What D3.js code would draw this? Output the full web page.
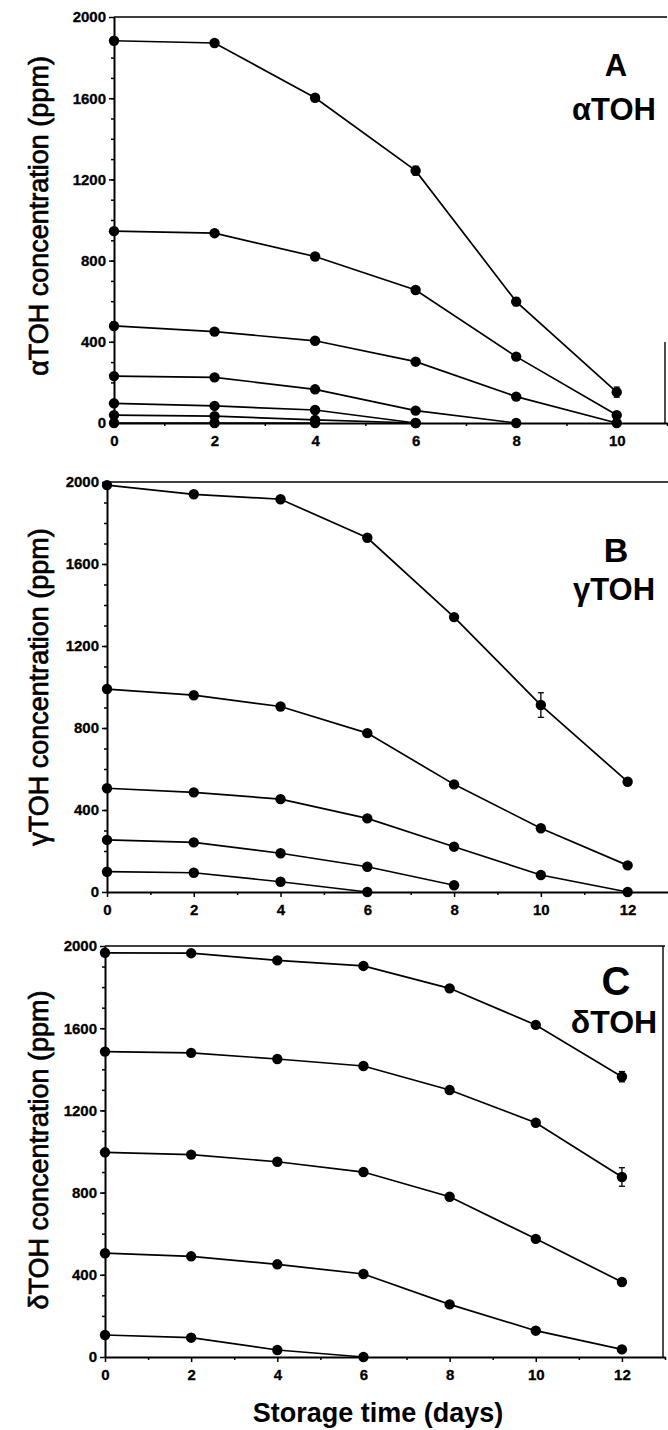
<!DOCTYPE html>
<html>
<head>
<meta charset="utf-8">
<script src="https://cdn.jsdelivr.net/npm/d3@7"></script>
<style>
  body { margin: 0; background: #fff; }
  svg { display: block; }
</style>
</head>
<body>
<div id="chart"></div>
<script>
// storage days
var daysA = [0, 2, 4, 6, 8, 10];
var daysBC = [0, 2, 4, 6, 8, 10, 12];

// alpha-tocopherol (ppm), one row per starting level
var alphaSeries = [
  [1883, 1872, 1602, 1243, 598, 152],
  [945, 935, 820, 655, 327, 39],
  [478, 450, 405, 302, 130, 0],
  [231, 225, 166, 61, 0, null],
  [97, 84, 64, 0, null, null],
  [39, 34, 15, 0, null, null],
  [0, 0, 0, null, null, null]
];
// gamma-tocopherol (ppm)
var gammaSeries = [
  [1985, 1940, 1916, 1728, 1341, 912, 538],
  [990, 960, 905, 775, 525, 311, 130],
  [506, 486, 453, 359, 221, 83, 0],
  [254, 242, 189, 123, 33, null, null],
  [99, 94, 50, 0, null, null, null]
];
// delta-tocopherol (ppm)
var deltaSeries = [
  [1967, 1965, 1930, 1903, 1794, 1616, 1364],
  [1486, 1480, 1450, 1416, 1299, 1140, 876],
  [996, 985, 950, 900, 780, 575, 365],
  [505, 490, 451, 404, 256, 128, 37],
  [107, 94, 34, 0, null, null, null]
];
// error bars: [series index, day, half-width]
var alphaErr = [[0, 6, 22], [0, 8, 20], [0, 10, 25]];
var gammaErr = [[0, 10, 60]];
var deltaErr = [[0, 12, 25], [1, 12, 45]];

var yTicks = [0, 400, 800, 1200, 1600, 2000];

var font = "Liberation Sans, Arial, sans-serif";

var svg = d3.select("#chart").append("svg")
  .attr("width", 668)
  .attr("height", 1430);

var panels = [
  { days: daysA, series: alphaSeries, err: alphaErr, xMax: 11, xr: [114, 667], yr: [423, 17],
    letter: "A", name: "\u03b1TOH", letterY: 76, nameY: 120, letterSize: 31, nameSize: 31,
    title: "\u03b1TOH concentration (ppm)", titleY: 216, rightFrom: 342 },
  { days: daysBC, series: gammaSeries, err: gammaErr, xMax: 13, xr: [107, 671], yr: [892, 482],
    letter: "B", name: "\u03b3TOH", letterY: 562, nameY: 600, letterSize: 34, nameSize: 31,
    title: "\u03b3TOH concentration (ppm)", titleY: 687, rightFrom: null },
  { days: daysBC, series: deltaSeries, err: deltaErr, xMax: 13, xr: [105, 665], yr: [1357, 946],
    letter: "C", name: "\u03b4TOH", letterY: 995, nameY: 1033, letterSize: 40, nameSize: 32,
    title: "\u03b4TOH concentration (ppm)", titleY: 1150, rightFrom: 946 }
];

panels.forEach(function(p) {
  var x = d3.scaleLinear().domain([0, p.xMax]).range(p.xr);
  var y = d3.scaleLinear().domain([0, 2000]).range(p.yr);
  var g = svg.append("g");

  // frame top + partial right side
  g.append("line")
    .attr("x1", x(0)).attr("x2", x(p.xMax))
    .attr("y1", y(2000)).attr("y2", y(2000))
    .attr("stroke", "#000").attr("stroke-width", 1.6);
  if (p.rightFrom !== null) {
    g.append("line")
      .attr("x1", x(p.xMax) - 2).attr("x2", x(p.xMax) - 2)
      .attr("y1", p.rightFrom).attr("y2", y(0))
      .attr("stroke", "#000").attr("stroke-width", 1.4);
  }

  // minor ticks
  var xMinor = d3.axisBottom(x).tickValues(d3.range(1, p.xMax + 1, 2)).tickSize(3).tickFormat("");
  var yMinor = d3.axisLeft(y).tickValues(d3.range(100, 2000, 100)).tickSize(3).tickFormat("");
  g.append("g").attr("transform", "translate(0," + y(0) + ")").call(xMinor)
    .call(a => a.select(".domain").remove());
  g.append("g").attr("transform", "translate(" + x(0) + ",0)").call(yMinor)
    .call(a => a.select(".domain").remove());

  var xAxis = d3.axisBottom(x).tickValues(p.days).tickSize(5).tickSizeOuter(0)
    .tickPadding(7).tickFormat(d3.format("d"));
  var yAxis = d3.axisLeft(y).tickValues(yTicks).tickSize(5).tickSizeOuter(0)
    .tickPadding(3).tickFormat(d3.format("d"));

  g.append("g").attr("transform", "translate(0," + y(0) + ")").call(xAxis);
  g.append("g").attr("transform", "translate(" + x(0) + ",0)").call(yAxis);
  g.selectAll(".domain").attr("stroke-width", 2);
  g.selectAll(".tick line").attr("stroke-width", 1.5);
  g.selectAll(".tick text")
    .attr("font-family", font)
    .attr("font-weight", "bold")
    .attr("font-size", 15)
    .attr("stroke", "#000").attr("stroke-width", 0.3);

  // series lines and markers
  var line = d3.line()
    .defined(d => d != null)
    .x((d, i) => x(p.days[i]))
    .y(d => y(d));

  p.series.forEach(function(s) {
    g.append("path")
      .datum(s)
      .attr("d", line)
      .attr("fill", "none")
      .attr("stroke", "#000")
      .attr("stroke-width", 1.7);
    g.selectAll(null)
      .data(s.map((v, i) => ({ v: v, d: p.days[i] })).filter(o => o.v != null))
      .enter()
      .append("circle")
      .attr("cx", o => x(o.d))
      .attr("cy", o => y(o.v))
      .attr("r", 5.2)
      .attr("fill", "#000");
  });

  // error bars
  p.err.forEach(function(e) {
    var v = p.series[e[0]][p.days.indexOf(e[1])];
    var cx = x(e[1]);
    g.append("line").attr("x1", cx).attr("x2", cx)
      .attr("y1", y(v - e[2])).attr("y2", y(v + e[2]))
      .attr("stroke", "#000").attr("stroke-width", 1.3);
    [v - e[2], v + e[2]].forEach(function(t) {
      g.append("line").attr("x1", cx - 3).attr("x2", cx + 3)
        .attr("y1", y(t)).attr("y2", y(t))
        .attr("stroke", "#000").attr("stroke-width", 1.3);
    });
  });

  // panel labels
  g.append("text")
    .attr("x", 616).attr("y", p.letterY)
    .attr("text-anchor", "middle")
    .attr("font-family", font)
    .attr("font-weight", "bold")
    .attr("font-size", p.letterSize)
    .text(p.letter);
  g.append("text")
    .attr("x", 614).attr("y", p.nameY)
    .attr("text-anchor", "middle")
    .attr("font-family", font)
    .attr("font-weight", "bold")
    .attr("font-size", p.nameSize)
    .text(p.name);

  // y axis title
  g.append("text")
    .attr("transform", "translate(48," + p.titleY + ") rotate(-90)")
    .attr("text-anchor", "middle")
    .attr("font-family", font)
    .attr("font-size", 27)
    .attr("stroke", "#000").attr("stroke-width", 0.7)
    .text(p.title);
});

svg.append("text")
  .attr("x", 378).attr("y", 1422)
  .attr("text-anchor", "middle")
  .attr("font-family", font)
  .attr("font-weight", "bold")
  .attr("font-size", 27)
  .text("Storage time (days)");
</script>
</body>
</html>
